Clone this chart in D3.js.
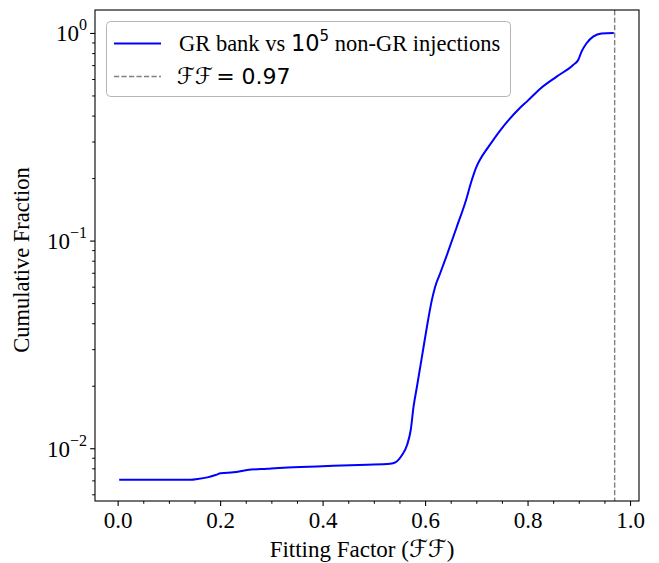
<!DOCTYPE html>
<html>
<head>
<meta charset="utf-8">
<script src="https://cdn.jsdelivr.net/npm/d3@7"></script>
<style>
  body { margin: 0; background: #fff; }
  svg { display: block; }
  .tick text { font-family: "Liberation Serif", "Times New Roman", serif; font-size: 23px; fill: #000; }
  .domain { display: none; }
</style>
</head>
<body>
<svg id="chart" width="659" height="563"></svg>
<script>
(function () {
    'use strict';

    // fitting factor (x) and cumulative fraction (y)
    var fittingFactor = [0.003, 0.143, 0.156, 0.175, 0.191, 0.201, 0.226, 0.253, 0.292, 0.324,
        0.357, 0.421, 0.487, 0.532, 0.542, 0.555, 0.565, 0.572, 0.5775, 0.5841,
        0.5939, 0.6036, 0.6133, 0.6197, 0.6295, 0.6425, 0.662, 0.680, 0.690, 0.700,
        0.7074, 0.7229, 0.746, 0.785, 0.800, 0.8242, 0.8567, 0.889, 0.8988, 0.9054,
        0.9151, 0.928, 0.9443, 0.9683];
    var cumFraction = [0.00705, 0.00705, 0.00711, 0.00724, 0.00743, 0.00757, 0.00766, 0.00785, 0.00797, 0.00806,
        0.00811, 0.00824, 0.00833, 0.00842, 0.00855, 0.00927, 0.0104, 0.01224, 0.01585, 0.01978,
        0.0276, 0.03847, 0.0518, 0.060, 0.0696, 0.0852, 0.1167, 0.1569, 0.1915, 0.226,
        0.246, 0.281, 0.338, 0.435, 0.471, 0.5374, 0.616, 0.701, 0.741, 0.813,
        0.892, 0.960, 0.995, 1.0];

    var ffThreshold = 0.97;
    var xTicks = [0.0, 0.2, 0.4, 0.6, 0.8, 1.0];
    var xMinorTicks = [0.05, 0.1, 0.15, 0.25, 0.3, 0.35, 0.45, 0.5, 0.55, 0.65, 0.7, 0.75, 0.85, 0.9, 0.95];
    var yTicks = [0.01, 0.1, 1];
    var yTickExp = ["\u22122", "\u22121", "0"];
    var yMinorTicks = [0.006, 0.007, 0.008, 0.009, 0.02, 0.03, 0.04, 0.05, 0.06, 0.07, 0.08, 0.09,
        0.2, 0.3, 0.4, 0.5, 0.6, 0.7, 0.8, 0.9];

    var data = fittingFactor.map(function (f, i) { return { x: f, y: cumFraction[i] }; });

    var svg = d3.select("#chart"),
        left = 95, right = 639, top = 10, bottom = 501;

    var x = d3.scaleLinear().domain([-0.0442, 1.0175]).range([left, right]);
    var y = d3.scaleLog().domain([0.00557, 1.29]).range([bottom, top]);

    // x axis
    svg.append("g")
        .attr("transform", "translate(0," + bottom + ")")
        .call(d3.axisBottom(x).tickValues(xMinorTicks).tickSize(2.8).tickFormat(""))
        .selectAll("line").attr("stroke", "#000").attr("stroke-width", 1);
    var xg = svg.append("g")
        .attr("transform", "translate(0," + bottom + ")")
        .call(d3.axisBottom(x).tickValues(xTicks).tickSize(4.9).tickPadding(5)
            .tickFormat(d3.format(".1f")));
    xg.selectAll("line").attr("stroke", "#000").attr("stroke-width", 1.1);
    xg.selectAll("text").attr("dy", null).attr("y", 27);

    // y axis
    svg.append("g")
        .attr("transform", "translate(" + left + ",0)")
        .call(d3.axisLeft(y).tickValues(yMinorTicks).tickSize(2.8).tickFormat(""))
        .selectAll("line").attr("stroke", "#000").attr("stroke-width", 1);
    var yg = svg.append("g")
        .attr("transform", "translate(" + left + ",0)")
        .call(d3.axisLeft(y).tickValues(yTicks).tickSize(4.9).tickFormat(""));
    yg.selectAll("line").attr("stroke", "#000").attr("stroke-width", 1.1);
    yg.selectAll(".tick").each(function (d, i) {
        var t = d3.select(this).append("text")
            .attr("x", -8)
            .attr("y", 8)
            .attr("text-anchor", "end");
        t.append("tspan").text("10");
        t.append("tspan")
            .attr("dy", -11)
            .style("font-size", "16px")
            .text(yTickExp[i]);
    });

    // threshold line
    svg.append("line")
        .attr("x1", x(ffThreshold)).attr("x2", x(ffThreshold))
        .attr("y1", top).attr("y2", bottom)
        .attr("stroke", "#808080")
        .attr("stroke-width", 1.4)
        .attr("stroke-dasharray", "5.2,2.3");

    // curve
    var line = d3.line()
        .x(function (d) { return x(d.x); })
        .y(function (d) { return y(d.y); })
        .curve(d3.curveMonotoneX);

    svg.append("path")
        .datum(data)
        .attr("d", line)
        .attr("fill", "none")
        .attr("stroke", "#0000ff")
        .attr("stroke-width", 2);

    // frame
    svg.append("rect")
        .attr("x", left).attr("y", top)
        .attr("width", right - left).attr("height", bottom - top)
        .attr("fill", "none")
        .attr("stroke", "#000")
        .attr("stroke-width", 1.1);

    // legend
    var lg = svg.append("g");
    lg.append("rect")
        .attr("x", 106.5).attr("y", 21.5)
        .attr("width", 404).attr("height", 75)
        .attr("rx", 4)
        .attr("fill", "#fff")
        .attr("fill-opacity", 0.8)
        .attr("stroke", "#b5b5b5")
        .attr("stroke-width", 1);
    lg.append("line")
        .attr("x1", 114).attr("x2", 161).attr("y1", 43.5).attr("y2", 43.5)
        .attr("stroke", "#0000ff").attr("stroke-width", 2);
    lg.append("line")
        .attr("x1", 114).attr("x2", 161).attr("y1", 76.5).attr("y2", 76.5)
        .attr("stroke", "#808080").attr("stroke-width", 1.4)
        .attr("stroke-dasharray", "5.2,2.3");

    var t1 = lg.append("text")
        .attr("x", 179).attr("y", 51)
        .style("font-family", "'Liberation Serif', serif")
        .style("font-size", "22.5px");
    t1.append("tspan").text("GR bank vs ");
    t1.append("tspan").style("font-family", "'DejaVu Sans', sans-serif").text("10");
    t1.append("tspan").attr("dy", -10).style("font-family", "'DejaVu Sans', sans-serif")
        .style("font-size", "15px").text("5");
    t1.append("tspan").attr("dy", 10).text(" non-GR injections");

    var t2 = lg.append("text")
        .attr("x", 177).attr("y", 84)
        .style("font-family", "'DejaVu Sans', sans-serif")
        .style("font-size", "22px");
    t2.append("tspan").style("font-style", "italic").style("font-size", "23px").text("\u2131\u2131");
    t2.append("tspan").text("= 0.97").attr("dx", 3);

    // axis labels
    var xl = svg.append("text")
        .attr("x", 362).attr("y", 557)
        .attr("text-anchor", "middle")
        .style("font-family", "'Liberation Serif', serif")
        .style("font-size", "23px");
    xl.append("tspan").text("Fitting Factor (");
    xl.append("tspan").style("font-family", "'DejaVu Sans', sans-serif").style("font-style", "italic")
        .style("font-size", "24px").text("\u2131\u2131");
    xl.append("tspan").text(")");

    svg.append("text")
        .attr("transform", "translate(29,260) rotate(-90)")
        .attr("text-anchor", "middle")
        .style("font-family", "'Liberation Serif', serif")
        .style("font-size", "22.5px")
        .text("Cumulative Fraction");
})();
</script>
</body>
</html>
